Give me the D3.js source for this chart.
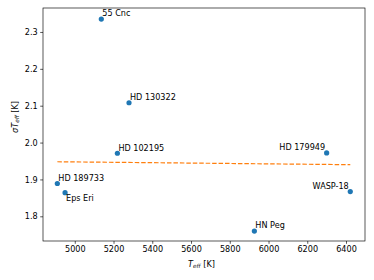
<!DOCTYPE html>
<html>
<head>
<meta charset="utf-8">
<script src="https://cdn.jsdelivr.net/npm/d3@7"></script>
<style>
body { margin: 0; background: #fff; }
text { font-family: "DejaVu Sans", sans-serif; fill: #000; }
</style>
</head>
<body>
<div id="chart"></div>
<script>
// star data
var stars = ["55 Cnc", "HD 130322", "HD 102195", "HD 179949", "WASP-18", "HN Peg", "HD 189733", "Eps Eri"];
var teff = [5137, 5280, 5220, 6300, 6422, 5927, 4910, 4950];
var sigmaTeff = [2.335, 2.108, 1.971, 1.972, 1.867, 1.760, 1.889, 1.864];

// linear fit, end points
var fitTeff = [4910, 6422];
var fitSigma = [1.948, 1.940];

var xTicks = [5000, 5200, 5400, 5600, 5800, 6000, 6200, 6400];
var yTicks = [1.8, 1.9, 2.0, 2.1, 2.2, 2.3];

var W = 374, H = 280;
var margin = {top: 8, right: 9, bottom: 39, left: 43};

var svg = d3.select("#chart").append("svg")
    .attr("width", W)
    .attr("height", H);

var xScale = d3.scaleLinear().domain([4836, 6498]).range([margin.left, W - margin.right]);
var yScale = d3.scaleLinear().domain([1.733, 2.365]).range([H - margin.bottom, margin.top]);

// axes
var xAxis = d3.axisBottom(xScale).tickValues(xTicks).tickSize(2.8).tickPadding(2.5).tickFormat(d3.format("d"));
var yAxis = d3.axisLeft(yScale).tickValues(yTicks).tickSize(2.8).tickPadding(2.5).tickFormat(d3.format(".1f"));

svg.append("g")
    .attr("transform", "translate(0," + (H - margin.bottom) + ")")
    .call(xAxis);
svg.append("g")
    .attr("transform", "translate(" + margin.left + ",0)")
    .call(yAxis);

svg.selectAll(".domain").remove();
svg.selectAll(".tick line").attr("stroke", "#000").attr("stroke-width", 0.65);
svg.selectAll(".tick text").attr("font-size", "8.1px").attr("font-family", "DejaVu Sans").attr("fill", "#000");

// frame
svg.append("rect")
    .attr("x", margin.left)
    .attr("y", margin.top)
    .attr("width", W - margin.left - margin.right)
    .attr("height", H - margin.top - margin.bottom)
    .attr("fill", "none")
    .attr("stroke", "#000")
    .attr("stroke-width", 0.65);

// fit line
var line = d3.line()
    .x(function(d, i) { return xScale(fitTeff[i]); })
    .y(function(d) { return yScale(d); });

svg.append("path")
    .datum(fitSigma)
    .attr("d", line)
    .attr("fill", "none")
    .attr("stroke", "#ff7f0e")
    .attr("stroke-width", 1.2)
    .attr("stroke-dasharray", "4.5,1.95");

// points
svg.selectAll("circle.pt")
    .data(stars)
    .enter().append("circle")
    .attr("class", "pt")
    .attr("cx", function(d, i) { return xScale(teff[i]); })
    .attr("cy", function(d, i) { return yScale(sigmaTeff[i]); })
    .attr("r", 2.6)
    .attr("fill", "#1f77b4");

// label placement: right-aligned ones and the one set below its point
var placeRight = {"HD 179949": 1, "WASP-18": 1};
var placeBelow = {"Eps Eri": 1};

svg.selectAll("text.lbl")
    .data(stars)
    .enter().append("text")
    .attr("class", "lbl")
    .attr("font-size", "8.1px")
    .attr("x", function(d, i) { return xScale(teff[i]) + (placeRight[d] ? -1.5 : 1); })
    .attr("y", function(d, i) { return yScale(sigmaTeff[i]) + (placeBelow[d] ? 7.8 : -2.6); })
    .attr("text-anchor", function(d) { return placeRight[d] ? "end" : "start"; })
    .text(function(d) { return d; });

// axis labels
var xl = svg.append("text")
    .attr("x", 201.5)
    .attr("y", 266.7)
    .attr("text-anchor", "middle")
    .attr("font-size", "8.1px");
xl.append("tspan").attr("font-style", "italic").text("T");
xl.append("tspan").attr("font-style", "italic").attr("font-size", "5.7px").attr("dy", 1.3).text("eff");
xl.append("tspan").attr("dy", -1.3).text(" [K]");

var yl = svg.append("text")
    .attr("transform", "translate(18,117) rotate(-90)")
    .attr("text-anchor", "middle")
    .attr("font-size", "8.1px");
yl.append("tspan").attr("font-style", "italic").text("σT");
yl.append("tspan").attr("font-style", "italic").attr("font-size", "5.7px").attr("dy", 1.3).text("eff");
yl.append("tspan").attr("dy", -1.3).text(" [K]");
</script>
</body>
</html>
